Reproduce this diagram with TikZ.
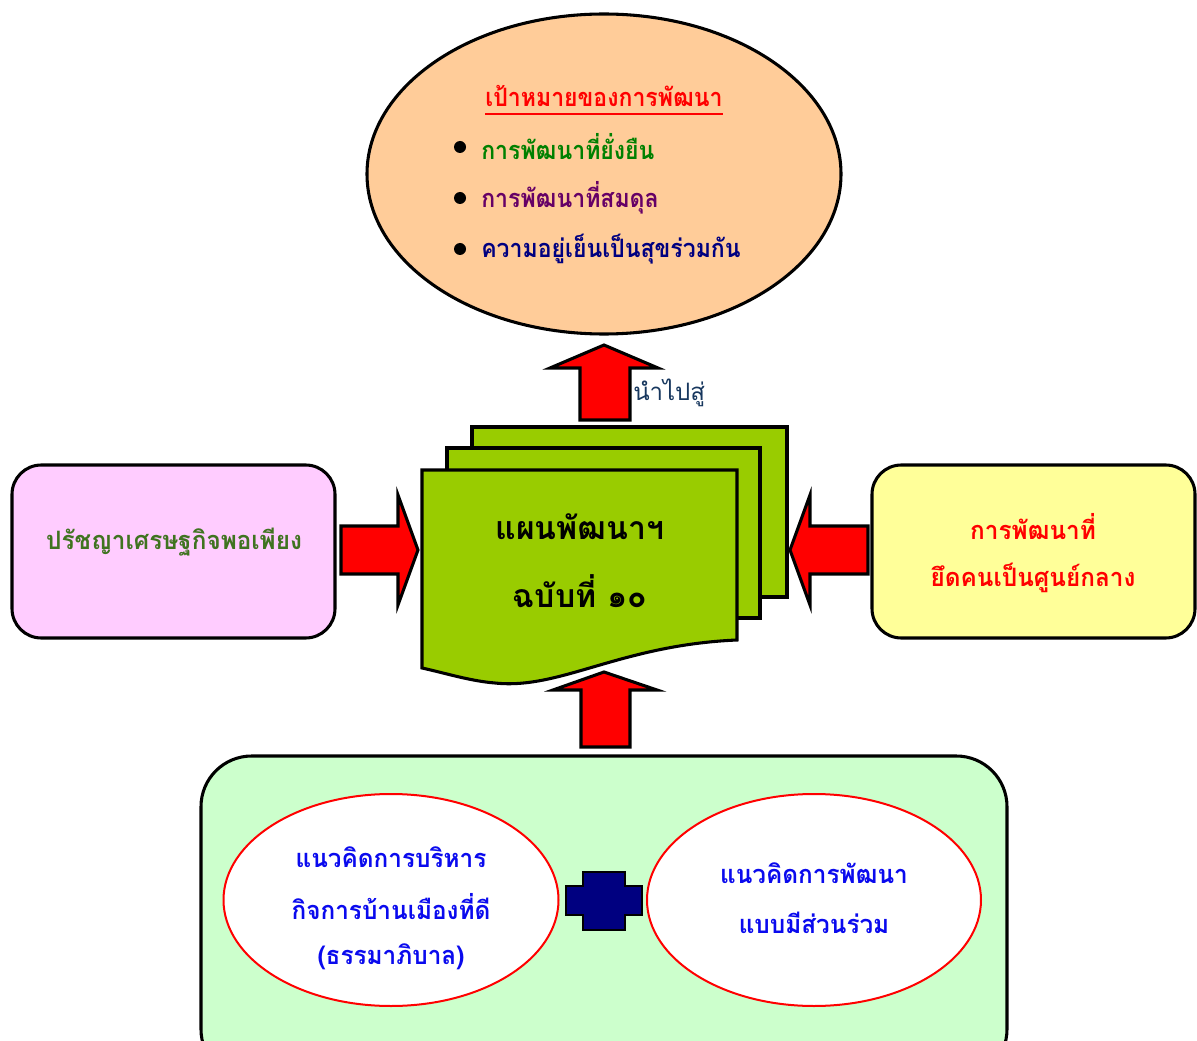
\documentclass[tikz,border=0pt]{standalone}
\usepackage{fontspec}
\newfontfamily\thai[Script=Thai,FakeStretch=0.96]{Loma}
\newfontfamily\thainarrow[Script=Thai,FakeStretch=0.91]{Loma}
\newfontfamily\thaiplain[Script=Thai]{Loma}
\usetikzlibrary{shapes.geometric}
\definecolor{peach}{HTML}{FFCC99}
\definecolor{docgreen}{HTML}{99CC00}
\definecolor{pinkbox}{HTML}{FFCCFF}
\definecolor{yellowbox}{HTML}{FFFF99}
\definecolor{mint}{HTML}{CCFFCC}
\definecolor{navyc}{HTML}{000080}
\definecolor{tgreen}{HTML}{008000}
\definecolor{tpurple}{HTML}{660066}
\definecolor{tolive}{HTML}{3F7320}
\definecolor{tblue}{HTML}{0A0AEE}
\definecolor{tlead}{HTML}{17375E}
\tikzset{
  blk/.style={draw=black, line width=2.3pt, line join=miter},
  blockarrow/.style={fill=red, draw=black, line width=2.3pt, line join=miter},
  thtext/.style={font=\thai\bfseries\fontsize{19}{22}\selectfont, inner sep=0pt, anchor=center},
  goaltext/.style={font=\thainarrow\bfseries\fontsize{19}{22}\selectfont, inner sep=0pt, anchor=center},
  bigtext/.style={font=\thaiplain\bfseries\fontsize{24}{28}\selectfont, inner sep=0pt, anchor=center},
  redoval/.style={ellipse, draw=red, line width=1.5pt, fill=white, inner sep=0pt},
}
\begin{document}
\begin{tikzpicture}[x=0.75pt,y=-0.75pt]
\useasboundingbox (0,0) rectangle (1197,1041);
\clip (0,0) rectangle (1197,1041);

% ---------- goal ellipse ----------
\node[ellipse, blk, fill=peach, minimum width=474*0.75pt, minimum height=320*0.75pt, inner sep=0pt] (goal) at (604,174) {};
\node[goaltext, text=red] (gtitle) at (604,96) {เป้าหมายของการพัฒนา};
\draw[red, line width=1.5pt] ([yshift=-5pt]gtitle.south west) -- ([yshift=-5pt]gtitle.south east);
\node[goaltext, text=tgreen, anchor=west] (g1) at (481,147) {การพัฒนาที่ยั่งยืน};
\node[goaltext, text=tpurple, anchor=west] (g2) at (481,198) {การพัฒนาที่สมดุล};
\node[goaltext, text=navyc, anchor=west] (g3) at (481,249) {ความอยู่เย็นเป็นสุขร่วมกัน};
\fill (460,147) circle (6);
\fill (460,198) circle (6);
\fill (460,249) circle (6);

% ---------- document stack ----------
\draw[blk, fill=docgreen] (472,427) rectangle (787,597);
\draw[blk, fill=docgreen] (447,448) rectangle (760,618);
\draw[blk, fill=docgreen] (422,470) -- (737,470) -- (737,640)
   .. controls (620,645) and (560,690) .. (495,683)
   .. controls (470,681) and (445,673) .. (422,668) -- cycle;
\node[bigtext, text=black] (d1) at (580,527) {แผนพัฒนาฯ};
\node[bigtext, text=black] (d2) at (580,591) {ฉบับที่ ๑๐};

% ---------- arrow up to goal ----------
\draw[blockarrow] (580,420) -- (580,368) -- (550,368) -- (604,345) -- (658,368) -- (630,368) -- (630,420) -- cycle;
\node[font=\thaiplain\fontsize{18}{22}\selectfont, text=tlead, anchor=west, inner sep=0pt] (lead) at (633,393) {นำไปสู่};

% ---------- left box ----------
\node[blk, fill=pinkbox, rounded corners=22pt, minimum width=323*0.75pt, minimum height=173*0.75pt, inner sep=0pt] (phil) at (173.5,551.5) {};
\node[thtext, text=tolive] (philt) at (174,542) {ปรัชญาเศรษฐกิจพอเพียง};
\draw[blockarrow] (341,526) -- (398,526) -- (398,495) -- (418,550) -- (398,605) -- (398,574) -- (341,574) -- cycle;

% ---------- right box ----------
\node[blk, fill=yellowbox, rounded corners=22pt, minimum width=323*0.75pt, minimum height=173*0.75pt, inner sep=0pt] (people) at (1033.5,551.5) {};
\node[thtext, text=red] (p1) at (1033,527) {การพัฒนาที่};
\node[thtext, text=red] (p2) at (1033,578) {ยึดคนเป็นศูนย์กลาง};
\draw[blockarrow] (868,526) -- (810,526) -- (810,495) -- (790,550) -- (810,605) -- (810,574) -- (868,574) -- cycle;

% ---------- arrow from bottom ----------
\draw[blockarrow] (581,747) -- (581,690) -- (553,690) -- (604,672) -- (657,690) -- (630,690) -- (630,747) -- cycle;

% ---------- bottom box ----------
\draw[blk, fill=mint, rounded corners=38pt] (201,756) rectangle (1007,1080);
\node[redoval, minimum width=335*0.75pt, minimum height=212*0.75pt] (gov) at (391,900) {};
\node[thtext, text=tblue] (gv1) at (391,857) {แนวคิดการบริหาร};
\node[thtext, text=tblue] (gv2) at (391,907) {กิจการบ้านเมืองที่ดี};
\node[thtext, text=tblue] (gv3) at (391,957) {(ธรรมาภิบาล)};
\node[redoval, minimum width=334*0.75pt, minimum height=212*0.75pt] (part) at (814,900) {};
\node[thtext, text=tblue] (pt1) at (814,873) {แนวคิดการพัฒนา};
\node[thtext, text=tblue] (pt2) at (814,923) {แบบมีส่วนร่วม};
\draw[fill=navyc, draw=black, line width=1.5pt] (583,872) -- (625,872) -- (625,886) -- (642,886) -- (642,915) -- (625,915) -- (625,930) -- (583,930) -- (583,915) -- (566,915) -- (566,886) -- (583,886) -- cycle;
\end{tikzpicture}
\end{document}
